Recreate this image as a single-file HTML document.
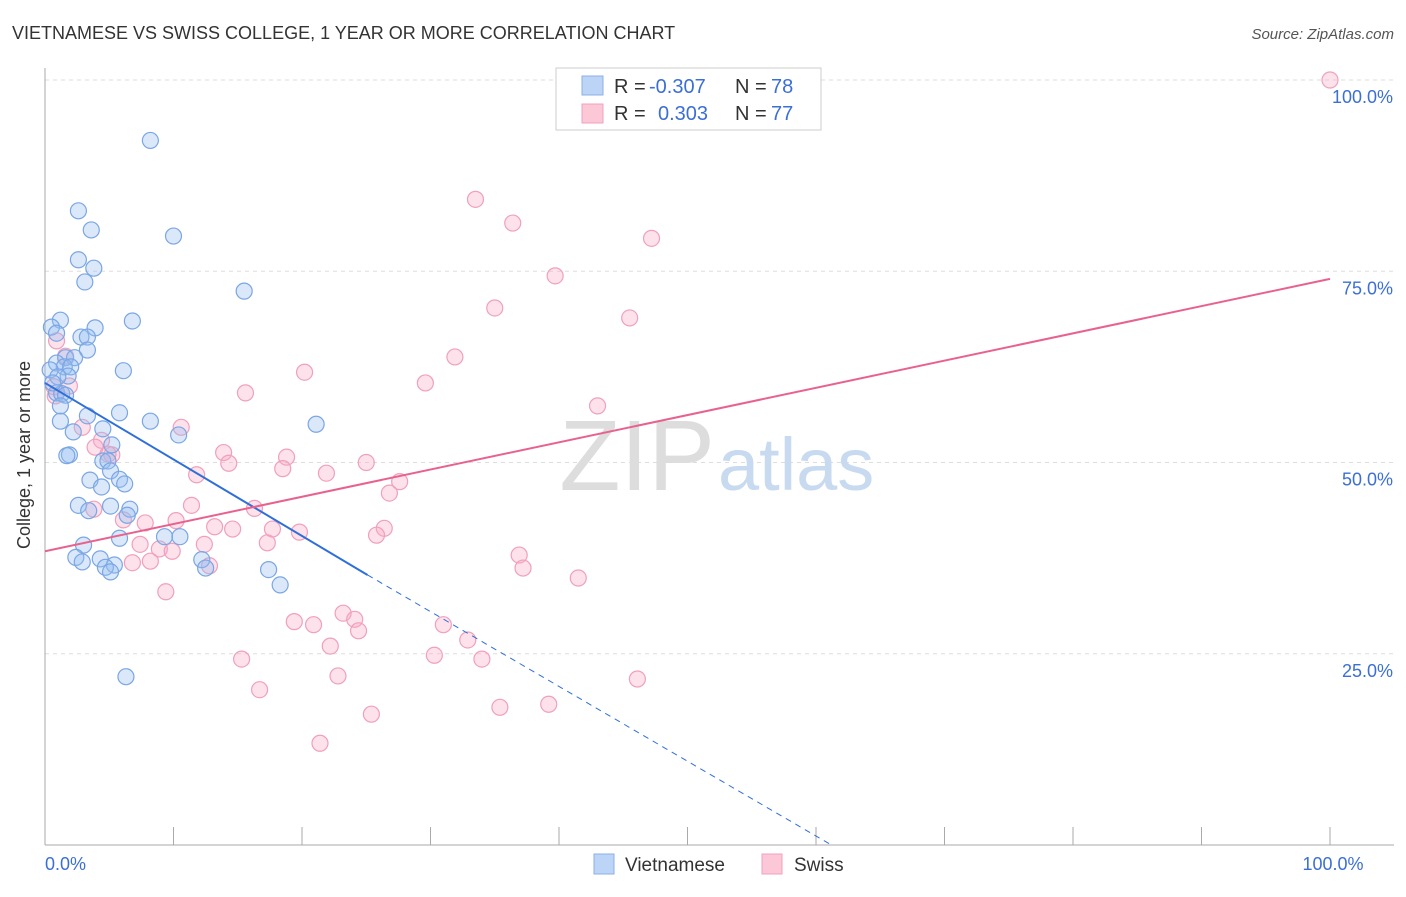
<!DOCTYPE html>
<html><head><meta charset="utf-8"><style>
body{margin:0;background:#fff;font-family:"Liberation Sans",sans-serif;}
svg text{font-family:"Liberation Sans",sans-serif;}
</style></head><body>
<svg width="1406" height="892">
<text x="12" y="39" font-size="18" fill="#333">VIETNAMESE VS SWISS COLLEGE, 1 YEAR OR MORE CORRELATION CHART</text>
<text x="1394" y="39" font-size="15" fill="#555" text-anchor="end" font-style="italic">Source: ZipAtlas.com</text>
<g id="grid"></g>
<text x="715" y="490" font-size="100" fill="#ddd" text-anchor="end" font-family="Liberation Serif">ZIP</text>
<text x="718" y="490" font-size="74" fill="#c8daf0">atlas</text>
<g id="pts"></g>
<g id="trend"></g>
<text x="30" y="455" font-size="18" fill="#333" text-anchor="middle" transform="rotate(-90 30 455)">College, 1 year or more</text>
<g>
<rect x="556" y="68" width="265" height="62" fill="#fff" stroke="#ccc"/>
<rect x="582" y="76" width="21" height="19" fill="#bcd4f5" stroke="#8ab0e8"/>
<rect x="582" y="104" width="21" height="19" fill="#fcc8d8" stroke="#f0a0bc"/>
<text x="614" y="93" font-size="20" fill="#333">R =</text>
<text x="649" y="93" font-size="20" fill="#3b6fd6">-0.307</text>
<text x="735" y="93" font-size="20" fill="#333">N =</text>
<text x="771" y="93" font-size="20" fill="#3b6fd6">78</text>
<text x="614" y="120" font-size="20" fill="#333">R =</text>
<text x="658" y="120" font-size="20" fill="#3b6fd6">0.303</text>
<text x="735" y="120" font-size="20" fill="#333">N =</text>
<text x="771" y="120" font-size="20" fill="#3b6fd6">77</text>
</g>
<g>
<rect x="594" y="854" width="20" height="20" fill="#bcd4f5" stroke="#8ab0e8"/>
<text x="625" y="871" font-size="19" fill="#333">Vietnamese</text>
<rect x="762" y="854" width="20" height="20" fill="#fcc8d8" stroke="#f0a0bc"/>
<text x="794" y="871" font-size="19" fill="#333">Swiss</text>
</g>
</svg>
<script>
const yTicks=[25,50,75,100];
const xTickLabels=["0.0%","100.0%"];
const blueX=[8.2,2.6,3.6,10,2.6,3.8,3.1,15.5,1.2,6.8,0.5,0.9,3.9,2.8,3.3,3.3,1.6,2.3,0.9,1.5,2,1.8,6.1,0.9,1.3,1.6,1.2,3.3,5.8,8.2,21.1,1.2,2.2,4.5,10.4,5.2,1.9,1.7,4.5,4.9,5.1,3.5,5.8,4.4,6.2,2.6,5.1,3.4,6.6,6.4,3,5.8,9.3,10.5,4.3,5.4,2.4,2.9,4.7,5.1,12.2,12.5,17.4,18.3,6.3,0.4,1,0.6];
const blueY=[92.1,82.9,80.4,79.6,76.5,75.4,73.6,72.4,68.6,68.5,67.7,66.9,67.6,66.4,66.4,64.7,63.7,63.7,63,62.5,62.5,61.3,62,59.1,59,58.8,57.4,56.1,56.5,55.4,55,55.4,54,54.4,53.6,52.3,51,50.9,50.2,50.2,48.9,47.7,47.8,46.8,47.2,44.4,44.3,43.7,43.9,43.1,39.2,40.1,40.3,40.3,37.4,36.6,37.6,37,36.3,35.7,37.3,36.2,36,34,22,62.1,61.2,60.4];
const pinkX=[100,33.5,36.4,47.2,39.7,35,45.5,0.9,31.9,20.2,29.6,1.9,15.6,43,0.7,2.9,10.6,4.4,13.9,18.8,5.2,25,14.3,18.5,21.9,27.6,11.8,26.8,11.4,16.3,6.1,7.8,10.2,13.2,14.6,17.7,19.8,26.4,25.8,12.4,7.4,17.3,8.9,9.9,6.8,8.2,12.8,36.9,37.2,41.5,9.4,19.4,20.9,23.2,24.1,24.4,31,32.9,22.2,15.3,30.3,34,46.1,22.8,16.7,35.4,39.2,25.4,21.4,4.9,3.9,1.6,0.8,3.8];
const pinkY=[100,84.4,81.3,79.3,74.4,70.2,68.9,65.9,63.8,61.8,60.4,60,59.1,57.4,59.9,54.6,54.6,52.9,51.3,50.7,51,50,49.9,49.2,48.6,47.5,48.4,46,44.4,44,42.5,42.1,42.4,41.6,41.3,41.3,40.9,41.4,40.5,39.3,39.3,39.5,38.7,38.4,36.9,37.1,36.5,37.9,36.2,34.9,33.1,29.2,28.8,30.3,29.5,28,28.8,26.8,26,24.3,24.8,24.3,21.7,22.1,20.3,18,18.4,17.1,13.3,51.1,52,63.9,58.7,43.9];
const blueTrend=[0,60.4,25.1,35.3,61.2,0];
const pinkTrend=[0,38.4,100,74];
const NS="http://www.w3.org/2000/svg";
const X0=45,X1=1330,Y0=845,YT=80;
const xs=v=>X0+v*(X1-X0)/100, ys=v=>Y0-v*(Y0-YT)/100;
function mk(t,a,p){const e=document.createElementNS(NS,t);for(const k in a)e.setAttribute(k,a[k]);p.appendChild(e);return e;}
const g=document.getElementById('grid');
yTicks.forEach(t=>{
 const l=mk('line',{x1:X0,x2:1394,y1:ys(t),y2:ys(t),stroke:'#ddd','stroke-dasharray':'4,4'},g);
 
 
 const tx=mk('text',{x:1393,y:ys(t)+23,'font-size':18,fill:'#3b6fd6','text-anchor':'end'},g);
 tx.textContent=t.toFixed(1)+'%';
 
 
});
const ax=mk('line',{x1:X0,x2:X0,y1:68,y2:Y0,stroke:'#aaa'},g);


const bx=mk('line',{x1:X0,x2:1394,y1:Y0,y2:Y0,stroke:'#aaa'},g);


for(let i=1;i<=10;i++){const t=mk('line',{x1:xs(i*10),x2:xs(i*10),y1:Y0,y2:827,stroke:'#aaa'},g);
 
 }
[[0,'start'],[100,'middle']].forEach((a,i)=>{const t=mk('text',{x:i?xs(100)+3:X0,y:870,'font-size':18,fill:'#3b6fd6','text-anchor':a[1]},g);t.textContent=xTickLabels[i];
 
 });
const P=document.getElementById('pts');
pinkX.forEach((v,i)=>{const c=mk('circle',{cx:xs(v),cy:ys(pinkY[i]),r:8,fill:'rgba(248,170,198,0.35)',stroke:'#f0a0bc','stroke-width':1.2},P);
 
 });
blueX.forEach((v,i)=>{const c=mk('circle',{cx:xs(v),cy:ys(blueY[i]),r:8,fill:'rgba(150,190,240,0.35)',stroke:'#7aa6e4','stroke-width':1.2},P);
 
 });
const T=document.getElementById('trend');
const b1=mk('line',{x1:xs(blueTrend[0]),y1:ys(blueTrend[1]),x2:xs(blueTrend[2]),y2:ys(blueTrend[3]),stroke:'#2f6fd8','stroke-width':2},T);


const b2=mk('line',{x1:xs(blueTrend[2]),y1:ys(blueTrend[3]),x2:xs(blueTrend[4]),y2:ys(blueTrend[5]),stroke:'#2f6fd8','stroke-width':1,'stroke-dasharray':'6,5'},T);


const p1=mk('line',{x1:xs(pinkTrend[0]),y1:ys(pinkTrend[1]),x2:xs(pinkTrend[2]),y2:ys(pinkTrend[3]),stroke:'#e8628e','stroke-width':2},T);


</script>
</body></html>
